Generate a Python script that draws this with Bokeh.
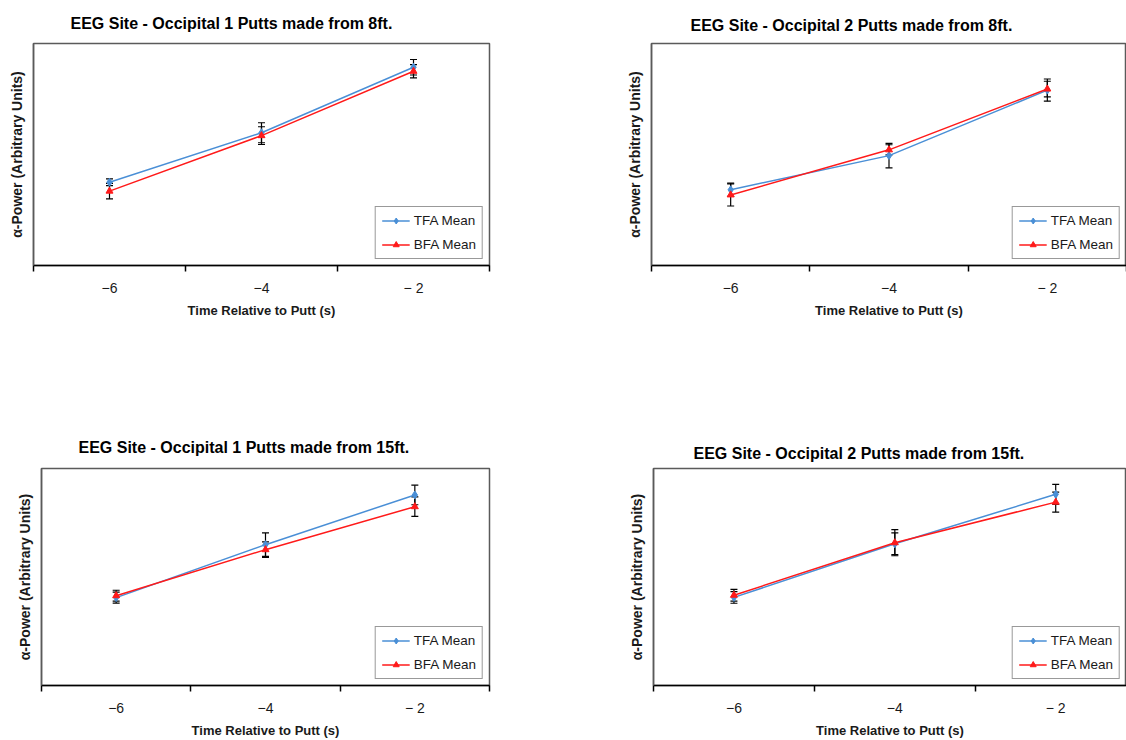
from bokeh.plotting import figure
from bokeh.models import ColumnDataSource, Whisker, TeeHead, FixedTicker, Range1d
from bokeh.layouts import row, column
from bokeh.embed import file_html
from bokeh.resources import INLINE

# ---------------- data ----------------
time_s = [-6, -4, -2]
tick_positions = [-6, -4, -2]
tick_marks = [-7, -5, -3, -1]
tick_labels = ["−6", "−4", "− 2"]
series_names = ["TFA Mean", "BFA Mean"]

titles = [
    "EEG Site - Occipital 1 Putts made from 8ft.",
    "EEG Site - Occipital 2 Putts made from 8ft.",
    "EEG Site - Occipital 1 Putts made from 15ft.",
    "EEG Site - Occipital 2 Putts made from 15ft.",
]
x_title = "Time Relative to Putt (s)"
y_title = "α-Power (Arbitrary Units)"

# Occipital 1, 8ft
tfa_o1_8 = [3.75, 5.98, 8.93]
tfa_o1_8_err = [0.15, 0.45, 0.35]
bfa_o1_8 = [3.35, 5.85, 8.75]
bfa_o1_8_err = [0.35, 0.40, 0.30]
# Occipital 2, 8ft
tfa_o2_8 = [3.41, 4.95, 7.90]
tfa_o2_8_err = [0.30, 0.55, 0.50]
bfa_o2_8 = [3.18, 5.21, 7.95]
bfa_o2_8_err = [0.50, 0.23, 0.35]
# Occipital 1, 15ft
tfa_o1_15 = [4.05, 6.49, 8.78]
tfa_o1_15_err = [0.25, 0.54, 0.45]
bfa_o1_15 = [4.14, 6.26, 8.24]
bfa_o1_15_err = [0.25, 0.36, 0.45]
# Occipital 2, 15ft
tfa_o2_15 = [4.06, 6.53, 8.81]
tfa_o2_15_err = [0.27, 0.50, 0.46]
bfa_o2_15 = [4.16, 6.58, 8.45]
bfa_o2_15_err = [0.27, 0.60, 0.46]

TFA_COLOR = "#4A8FD6"
BFA_COLOR = "#FF1A1A"
FONT = "Liberation Sans"


def make_panel(title, tfa, tfa_err, bfa, bfa_err, width, height,
               mbl, mbr, mbt, mbb, x_end, title_off, title_standoff):
    p = figure(width=width, height=height, output_backend="svg",
               toolbar_location=None, x_range=Range1d(-7, x_end),
               y_range=Range1d(0, 10),
               min_border_left=mbl, min_border_right=mbr,
               min_border_top=mbt, min_border_bottom=mbb)
    p.background_fill_color = "white"
    p.border_fill_color = "white"
    p.outline_line_color = "#5a5a5a"
    p.outline_line_width = 1.5
    p.xgrid.visible = False
    p.ygrid.visible = False

    # title
    p.title.text = title
    p.title.align = "left"
    p.title.offset = title_off
    p.title.text_font = FONT
    p.title.text_font_style = "bold"
    p.title.text_font_size = "16px"
    p.title.text_color = "black"
    p.title.standoff = title_standoff

    # y axis: label only
    ay = p.yaxis[0]
    ay.ticker = FixedTicker(ticks=[])
    ay.major_tick_out = 0
    ay.major_tick_in = 0
    ay.minor_tick_out = 0
    ay.minor_tick_in = 0
    ay.major_label_text_font_size = "0px"
    ay.axis_line_color = "#5a5a5a"
    ay.axis_line_width = 1.5
    ay.axis_label = y_title
    ay.axis_label_text_font = FONT
    ay.axis_label_text_font_style = "bold"
    ay.axis_label_text_font_size = "14px"
    ay.axis_label_text_color = "#1a1a1a"
    ay.axis_label_standoff = 9

    ax = p.xaxis[0]
    ax.ticker = FixedTicker(ticks=tick_positions, minor_ticks=tick_marks)
    ax.major_label_overrides = {t: l for t, l in zip(tick_positions, tick_labels)}
    ax.major_tick_out = 0
    ax.major_tick_in = 0
    ax.minor_tick_out = 6
    ax.minor_tick_in = 0
    ax.minor_tick_line_color = "black"
    ax.minor_tick_line_width = 1.5
    ax.axis_line_color = "black"
    ax.axis_line_width = 1.5
    ax.major_label_standoff = 8
    ax.major_label_text_font = FONT
    ax.major_label_text_font_size = "14px"
    ax.major_label_text_color = "#1a1a1a"
    ax.axis_label = x_title
    ax.axis_label_text_font = FONT
    ax.axis_label_text_font_style = "bold"
    ax.axis_label_text_font_size = "13px"
    ax.axis_label_text_color = "#1a1a1a"
    ax.axis_label_standoff = 4

    for vals, errs, color, marker, size, name in (
        (tfa, tfa_err, TFA_COLOR, "diamond", 8, series_names[0]),
        (bfa, bfa_err, BFA_COLOR, "triangle", 7, series_names[1]),
    ):
        src = ColumnDataSource(dict(
            x=time_s, y=vals,
            upper=[v + e for v, e in zip(vals, errs)],
            lower=[v - e for v, e in zip(vals, errs)],
        ))
        p.line("x", "y", source=src, line_color=color, line_width=1.5,
               legend_label=name)
        p.scatter("x", "y", source=src, marker=marker, size=size,
                  fill_color=color, line_color=color, legend_label=name)
        w = Whisker(base="x", upper="upper", lower="lower", source=src,
                    line_color="black", line_width=1.2,
                    upper_head=TeeHead(size=7, line_color="black", line_width=1.2),
                    lower_head=TeeHead(size=7, line_color="black", line_width=1.2))
        p.add_layout(w)

    lg = p.legend[0]
    lg.location = "bottom_right"
    lg.margin = 6
    lg.padding = 6
    lg.spacing = 9
    lg.label_height = 15
    lg.glyph_height = 15
    lg.glyph_width = 28
    lg.label_standoff = 4
    lg.label_text_font = FONT
    lg.label_text_font_size = "13.5px"
    lg.label_text_color = "#1a1a1a"
    lg.border_line_color = "#333333"
    lg.border_line_width = 1.5
    lg.background_fill_alpha = 1.0
    return p


p1 = make_panel(titles[0], tfa_o1_8, tfa_o1_8_err, bfa_o1_8, bfa_o1_8_err,
                615, 420, 33, 126, 43, 155, -1.0, 37, 23)
p2 = make_panel(titles[1], tfa_o2_8, tfa_o2_8_err, bfa_o2_8, bfa_o2_8_err,
                511, 420, 36, 0, 43, 155, -1.0, 39, 20)
p3 = make_panel(titles[2], tfa_o1_15, tfa_o1_15_err, bfa_o1_15, bfa_o1_15_err,
                615, 320, 41, 126, 48, 51, -1.0, 37, 26)
p4 = make_panel(titles[3], tfa_o2_15, tfa_o2_15_err, bfa_o2_15, bfa_o2_15_err,
                511, 320, 38, 0, 48, 51, -1.12, 40, 14)

layout = column(row(p1, p2), row(p3, p4))
open("out.html", "w").write(file_html(layout, INLINE))
